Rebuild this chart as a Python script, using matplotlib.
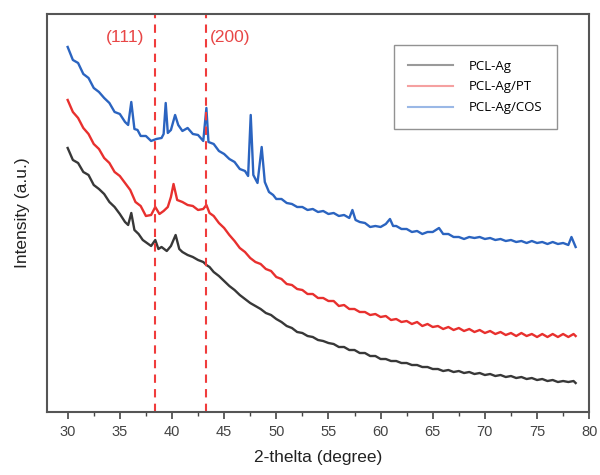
import matplotlib
matplotlib.use("Agg")
import matplotlib.pyplot as plt
from matplotlib.ticker import MultipleLocator

plt.rcParams["font.family"] = ["Liberation Sans", "DejaVu Sans"]

# XRD patterns (2-theta in degrees, intensity in arbitrary units)
theta_ag = [30.0, 30.5, 31.0, 31.5, 32.0, 32.5, 33.0, 33.5, 34.0, 34.5, 35.0, 35.5, 35.8, 36.1,
            36.4, 36.8, 37.2, 37.6, 38.0, 38.4, 38.7, 39.0, 39.5, 39.9, 40.35, 40.7, 41.0, 41.5,
            42.0, 42.5, 43.0, 43.3, 43.6, 44.0, 44.5, 45.0, 45.5, 46.0, 46.5, 47.0, 47.5, 48.0,
            48.5, 49.0, 49.5, 50.0, 50.5, 51.0, 51.5, 52.0, 52.5, 53.0, 53.5, 54.0, 54.5, 55.0,
            55.5, 56.0, 56.5, 57.0, 57.5, 58.0, 58.5, 59.0, 59.5, 60.0, 60.5, 61.0, 61.5, 62.0,
            62.5, 63.0, 63.5, 64.0, 64.5, 65.0, 65.5, 66.0, 66.5, 67.0, 67.5, 68.0, 68.5, 69.0,
            69.5, 70.0, 70.5, 71.0, 71.5, 72.0, 72.5, 73.0, 73.5, 74.0, 74.5, 75.0, 75.5, 76.0,
            76.5, 77.0, 77.5, 78.0, 78.5, 78.7]
int_ag = [264, 252, 249, 240, 237, 227, 223, 218, 210, 205, 198, 190, 187, 199,
          182, 178, 172, 169, 166, 172, 163, 165, 161, 166, 177, 163, 160, 157,
          155, 152, 150, 147, 145, 140, 136, 131, 126, 122, 117, 113, 109, 106,
          103, 99, 97, 93, 90, 86, 84, 80, 79, 76, 75, 72, 71, 69,
          68, 65, 65, 62, 62, 59, 59, 56, 56, 53, 53, 51, 51, 49,
          49, 47, 47, 45, 45, 43, 43, 41, 42, 40, 41, 39, 40, 38,
          39, 37, 38, 36, 37, 35, 36, 34, 35, 33, 34, 32, 33, 31,
          32, 30, 31, 30, 31, 29]

theta_pt = [30.0, 30.5, 31.0, 31.5, 32.0, 32.5, 33.0, 33.5, 34.0, 34.5, 35.0, 35.5, 36.0, 36.5,
            37.0, 37.5, 38.0, 38.4, 38.8, 39.2, 39.6, 39.9, 40.15, 40.5, 41.0, 41.5, 42.0, 42.5,
            43.0, 43.3, 43.6, 44.0, 44.5, 45.0, 45.5, 46.0, 46.5, 47.0, 47.5, 48.0, 48.5, 49.0,
            49.5, 50.0, 50.5, 51.0, 51.5, 52.0, 52.5, 53.0, 53.5, 54.0, 54.5, 55.0, 55.5, 56.0,
            56.5, 57.0, 57.5, 58.0, 58.5, 59.0, 59.5, 60.0, 60.5, 61.0, 61.5, 62.0, 62.5, 63.0,
            63.5, 64.0, 64.5, 65.0, 65.5, 66.0, 66.5, 67.0, 67.5, 68.0, 68.5, 69.0, 69.5, 70.0,
            70.5, 71.0, 71.5, 72.0, 72.5, 73.0, 73.5, 74.0, 74.5, 75.0, 75.5, 76.0, 76.5, 77.0,
            77.5, 78.0, 78.5, 78.7]
int_pt = [312, 300, 294, 284, 278, 268, 263, 254, 249, 240, 236, 229, 222, 210,
          206, 196, 197, 205, 198, 201, 205, 215, 228, 212, 210, 207, 206, 202,
          203, 207, 199, 196, 189, 184, 177, 171, 164, 160, 154, 150, 148, 143,
          141, 135, 133, 128, 127, 123, 122, 118, 118, 114, 114, 111, 111, 106,
          107, 103, 103, 100, 100, 97, 98, 95, 96, 92, 93, 90, 91, 88,
          90, 86, 88, 85, 86, 83, 85, 82, 84, 81, 83, 80, 82, 79,
          81, 78, 80, 77, 79, 76, 79, 76, 78, 75, 78, 75, 78, 75,
          78, 75, 78, 76]

theta_cos = [30.0, 30.5, 31.0, 31.5, 32.0, 32.5, 33.0, 33.5, 34.0, 34.5, 35.0, 35.5, 35.8, 36.1,
             36.4, 36.7, 37.0, 37.5, 38.0, 38.5, 39.0, 39.2, 39.4, 39.6, 39.9, 40.3, 40.6, 41.0,
             41.5, 42.0, 42.5, 43.0, 43.3, 43.5, 44.0, 44.5, 45.0, 45.5, 46.0, 46.5, 47.0, 47.3,
             47.55, 47.8, 48.2, 48.6, 48.9, 49.3, 49.7, 50.0, 50.5, 51.0, 51.5, 52.0, 52.5, 53.0,
             53.5, 54.0, 54.5, 55.0, 55.5, 56.0, 56.5, 57.0, 57.3, 57.6, 58.0, 58.5, 59.0, 59.5,
             60.0, 60.5, 60.9, 61.2, 61.5, 62.0, 62.5, 63.0, 63.5, 64.0, 64.5, 65.0, 65.6, 66.0,
             66.5, 67.0, 67.5, 68.0, 68.5, 69.0, 69.5, 70.0, 70.5, 71.0, 71.5, 72.0, 72.5, 73.0,
             73.5, 74.0, 74.5, 75.0, 75.5, 76.0, 76.5, 77.0, 77.5, 78.0, 78.3, 78.7]
int_cos = [365, 352, 349, 338, 334, 324, 320, 314, 309, 300, 298, 290, 287, 310,
           283, 282, 276, 276, 271, 273, 274, 278, 309, 279, 282, 297, 287, 281,
           284, 278, 277, 271, 304, 270, 268, 261, 258, 253, 250, 243, 241, 236,
           297, 237, 229, 265, 230, 220, 217, 213, 213, 209, 208, 205, 205, 202,
           203, 200, 201, 198, 199, 196, 197, 194, 202, 192, 190, 189, 185, 186,
           185, 188, 193, 186, 186, 183, 183, 180, 181, 178, 180, 180, 184, 178,
           178, 175, 175, 173, 175, 174, 175, 173, 174, 172, 173, 171, 172, 170,
           171, 169, 171, 169, 170, 168, 170, 168, 169, 167, 175, 165]

ag_planes = [38.4, 43.3]
plane_labels = ["(111)", "(200)"]
plane_label_x = [35.5, 45.6]

fig = plt.figure(figsize=(6, 4.75), dpi=100)
ax = fig.add_axes([0.078, 0.1326, 0.904, 0.838])

ax.plot(theta_ag, int_ag, color="#383838", lw=1.7, label="PCL-Ag")
ax.plot(theta_pt, int_pt, color="#e8302e", lw=1.7, label="PCL-Ag/PT")
ax.plot(theta_cos, int_cos, color="#2b64c0", lw=1.7, label="PCL-Ag/COS")

for xp, lab, xl in zip(ag_planes, plane_labels, plane_label_x):
    ax.axvline(xp, color="#f03c3c", lw=1.5, ls=(0, (4, 3)))
    ax.text(xl, 374, lab, color="#e84646", fontsize=12.5, ha="center", va="center")

ax.set_xlim(28, 80)
ax.set_ylim(0, 398)
ax.xaxis.set_major_locator(MultipleLocator(5))
ax.xaxis.set_minor_locator(MultipleLocator(2.5))
ax.set_yticks([])
ax.tick_params(axis="x", which="major", direction="out", length=5, width=1.2,
               colors="#444444", labelsize=10.5, pad=4)
ax.tick_params(axis="x", which="minor", direction="out", length=3, width=1.0, colors="#444444")
for s in ax.spines.values():
    s.set_color("#555555")
    s.set_linewidth(1.5)

ax.set_xlabel("2-thelta (degree)", fontsize=12.5, color="#222222", labelpad=8)
ax.set_ylabel("Intensity (a.u.)", fontsize=12.5, color="#222222", labelpad=12)

leg = ax.legend(loc="upper right", bbox_to_anchor=(0.941, 0.922), borderaxespad=0,
                frameon=True, fancybox=False, handlelength=3.4, handletextpad=1.2,
                borderpad=1.1, labelspacing=0.6, prop={"family": "Open Sans", "size": 9.5})
leg.get_frame().set_edgecolor("#777777")
leg.get_frame().set_linewidth(1.0)
for line, c in zip(leg.get_lines(), ["#9a9a9a", "#f5a0a0", "#9ab8e6"]):
    line.set_color(c)
    line.set_linewidth(1.5)

fig.savefig("out.png", dpi=100)
